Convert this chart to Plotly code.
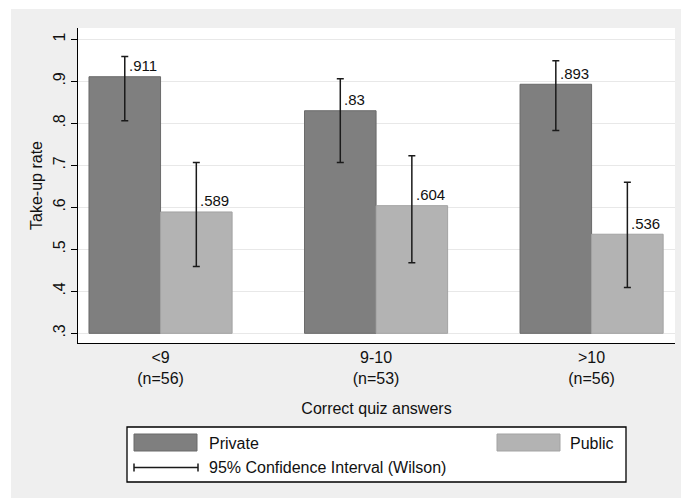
import plotly.graph_objects as go

# ---- data ----
categories = ["<9<br>(n=56)", "9-10<br>(n=53)", ">10<br>(n=56)"]
private_rate = [0.911, 0.830, 0.893]
private_lo = [0.806, 0.707, 0.783]
private_hi = [0.959, 0.906, 0.949]
public_rate = [0.589, 0.604, 0.536]
public_lo = [0.459, 0.468, 0.409]
public_hi = [0.707, 0.723, 0.660]
ytick_vals = [0.3, 0.4, 0.5, 0.6, 0.7, 0.8, 0.9, 1.0]
ytick_text = [".3", ".4", ".5", ".6", ".7", ".8", ".9", "1"]

BASE = 0.3
W, H = 681, 498
ML, MR, MT, MB = 78, 6, 28, 155
PW, PH = W - ML - MR, H - MT - MB
FONT = "Liberation Sans, Arial, sans-serif"
TXT = "#111111"
BARGAP = 0.336

def px_x(p):
    return (p - ML) / PW

def px_y(p):
    return (H - MB - p) / PH

def fmt(v):
    s = f"{v:.3f}".rstrip("0")
    return s[1:] if s.startswith("0") else s

fig = go.Figure()
fig.add_trace(go.Bar(
    x=categories, y=[v - BASE for v in private_rate], base=BASE, name="Private",
    marker=dict(color="#7f7f7f", line=dict(color="#6a6a6a", width=1)),
    error_y=dict(type="data", symmetric=False,
                 array=[h - v for h, v in zip(private_hi, private_rate)],
                 arrayminus=[v - l for v, l in zip(private_rate, private_lo)],
                 color="#1a1a1a", thickness=1.5, width=3.5),
    showlegend=False,
))
fig.add_trace(go.Bar(
    x=categories, y=[v - BASE for v in public_rate], base=BASE, name="Public",
    marker=dict(color="#b3b3b3", line=dict(color="#a3a3a3", width=1)),
    error_y=dict(type="data", symmetric=False,
                 array=[h - v for h, v in zip(public_hi, public_rate)],
                 arrayminus=[v - l for v, l in zip(public_rate, public_lo)],
                 color="#1a1a1a", thickness=1.5, width=3.5),
    showlegend=False,
))

half = (1 - BARGAP) / 4
annots = []
for i, (a, b) in enumerate(zip(private_rate, public_rate)):
    for xc, v in ((i - half, a), (i + half, b)):
        annots.append(dict(x=xc, y=v, xref="x", yref="y", text=fmt(v),
                           showarrow=False, xanchor="left", yanchor="middle",
                           xshift=3, yshift=11, borderpad=0,
                           font=dict(family=FONT, size=15, color=TXT)))

# legend (drawn manually to mimic the boxed two-column legend)
shapes = [
    # white outer margin (top/left)
    dict(type="rect", xref="paper", yref="paper", x0=px_x(0), x1=px_x(W), y0=px_y(9), y1=px_y(0),
         fillcolor="white", line=dict(width=0), layer="below"),
    dict(type="rect", xref="paper", yref="paper", x0=px_x(0), x1=px_x(11), y0=px_y(H), y1=px_y(0),
         fillcolor="white", line=dict(width=0), layer="below"),
    dict(type="rect", xref="paper", yref="paper", x0=px_x(127), x1=px_x(626), y0=px_y(482), y1=px_y(427),
         fillcolor="white", line=dict(color="#000000", width=1.3)),
    dict(type="rect", xref="paper", yref="paper", x0=px_x(134), x1=px_x(197), y0=px_y(451), y1=px_y(434),
         fillcolor="#7f7f7f", line=dict(color="#6a6a6a", width=1)),
    dict(type="rect", xref="paper", yref="paper", x0=px_x(497), x1=px_x(560), y0=px_y(451), y1=px_y(434),
         fillcolor="#b3b3b3", line=dict(color="#a3a3a3", width=1)),
    dict(type="line", xref="paper", yref="paper", x0=px_x(134), x1=px_x(198), y0=px_y(467.5), y1=px_y(467.5),
         line=dict(color="#1a1a1a", width=1.5)),
    dict(type="line", xref="paper", yref="paper", x0=px_x(134), x1=px_x(134), y0=px_y(463.5), y1=px_y(471.5),
         line=dict(color="#1a1a1a", width=1.5)),
    dict(type="line", xref="paper", yref="paper", x0=px_x(198), x1=px_x(198), y0=px_y(463.5), y1=px_y(471.5),
         line=dict(color="#1a1a1a", width=1.5)),
]
for txt, lx, ly in (("Private", 208, 443), ("Public", 569, 443),
                    ("95% Confidence Interval (Wilson)", 208, 467)):
    annots.append(dict(x=px_x(lx), y=px_y(ly), xref="paper", yref="paper", text=txt,
                       showarrow=False, xanchor="left", yanchor="middle", borderpad=0,
                       font=dict(family=FONT, size=16, color=TXT)))

fig.update_layout(
    width=W, height=H,
    margin=dict(l=ML, r=MR, t=MT, b=MB, pad=0),
    paper_bgcolor="#efefef", plot_bgcolor="white",
    barmode="group", bargap=BARGAP, bargroupgap=0,
    font=dict(family=FONT, size=16, color=TXT),
    xaxis=dict(type="category", range=[-0.383, 2.387], showgrid=False, zeroline=False,
               showline=True, linecolor="#000000", linewidth=1.2, ticks="",
               tickfont=dict(family=FONT, size=16, color=TXT),
               title=dict(text="Correct quiz answers", standoff=16,
                          font=dict(family=FONT, size=16, color=TXT)),
               automargin=False),
    yaxis=dict(range=[0.277, 1.027], tickvals=ytick_vals, ticktext=ytick_text, tickangle=-90,
               showgrid=True, gridcolor="#e8e8e8", gridwidth=1, zeroline=False,
               showline=True, linecolor="#000000", linewidth=1.2,
               ticks="outside", ticklen=6, tickcolor="#000000", tickwidth=1.2,
               tickfont=dict(family=FONT, size=16, color=TXT),
               title=dict(text="Take-up rate", standoff=3,
                          font=dict(family=FONT, size=16, color=TXT)),
               automargin=False),
    shapes=shapes, annotations=annots,
)

fig.write_html("out.html", config={"displayModeBar": False},
               post_script="document.body.style.margin='0';document.body.style.overflow='hidden';")
